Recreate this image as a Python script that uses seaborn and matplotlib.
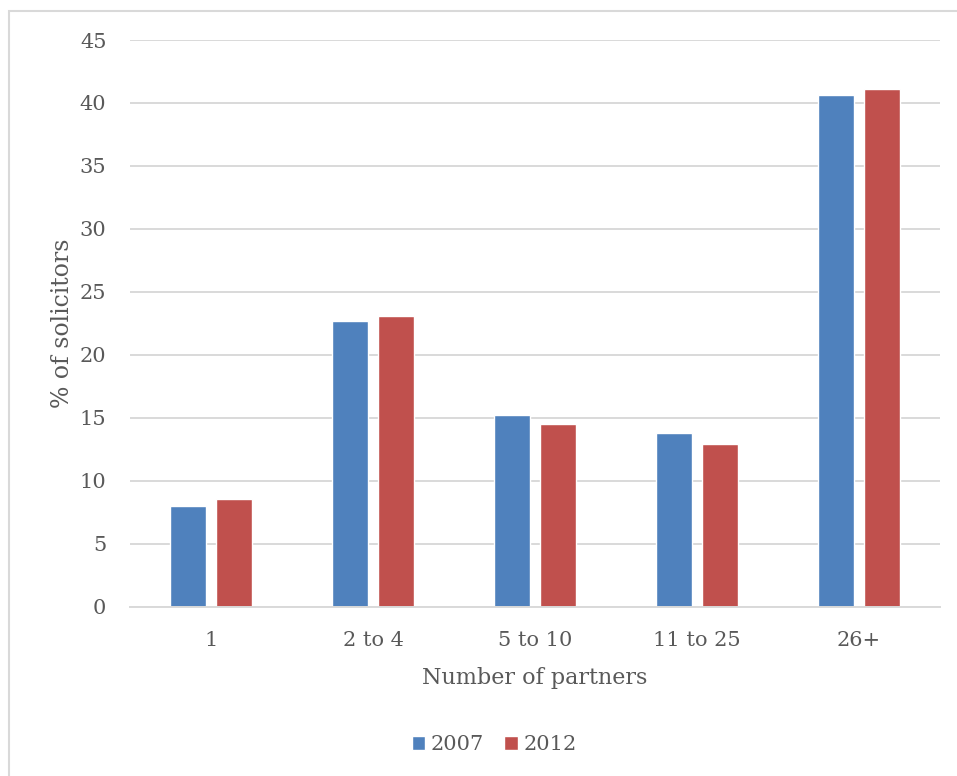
import matplotlib
matplotlib.use("Agg")
import matplotlib.pyplot as plt
import seaborn as sns
import pandas as pd
from matplotlib.patches import Rectangle

categories = ["1", "2 to 4", "5 to 10", "11 to 25", "26+"]
years = ["2007", "2012"]
values_2007 = [8.0, 22.7, 15.2, 13.8, 40.6]
values_2012 = [8.5, 23.1, 14.5, 12.9, 41.1]
y_ticks = [0, 5, 10, 15, 20, 25, 30, 35, 40, 45]

colors = {"2007": "#4F81BD", "2012": "#C0504D"}
text_color = "#595959"
grid_color = "#D9D9D9"

df = pd.DataFrame({
    "partners": categories * 2,
    "year": [years[0]] * len(categories) + [years[1]] * len(categories),
    "pct": values_2007 + values_2012,
})

sns.set_theme(style="white")
plt.rcParams["font.family"] = ["DejaVu Serif"]

fig = plt.figure(figsize=(9.57, 7.76), dpi=100)
ax = fig.add_axes([130 / 957, 1 - 606.5 / 776, 810 / 957, 566.5 / 776])

sns.barplot(data=df, x="partners", y="pct", hue="year", order=categories,
            hue_order=years, palette=colors, width=0.57, gap=0.21,
            saturation=1, ax=ax, legend=True)

ax.set_ylim(0, 45)
ax.set_xlim(-0.5, len(categories) - 0.5)
ax.set_yticks(y_ticks)
ax.set_yticklabels([str(t) for t in y_ticks])
ax.yaxis.grid(True, color=grid_color, linewidth=1.4)
ax.set_axisbelow(True)
for s in ["top", "right", "left"]:
    ax.spines[s].set_visible(False)
ax.spines["bottom"].set_color(grid_color)
ax.spines["bottom"].set_linewidth(1.4)
ax.tick_params(axis="both", length=0, labelsize=15, colors=text_color)
ax.tick_params(axis="y", pad=17)
ax.tick_params(axis="x", pad=18)

ax.set_xlabel("Number of partners", fontsize=16, color=text_color, labelpad=12)
ax.set_ylabel("% of solicitors", fontsize=17, color=text_color)
ax.yaxis.set_label_coords(-56 / 810, 0.5)

handles, labels = ax.get_legend_handles_labels()
ax.get_legend().remove()
fig.legend(handles, labels, loc="center", bbox_to_anchor=(494 / 957, 1 - 745 / 776),
           ncol=2, frameon=False, fontsize=15, handlelength=0.65, handleheight=0.65,
           handletextpad=0.25, columnspacing=1.0, labelcolor=text_color)

# chart-area border
fig.patches.append(Rectangle((9 / 957, -0.1), 1.2, 1.1 - 11 / 776,
                             transform=fig.transFigure, fill=False,
                             edgecolor=grid_color, linewidth=1.5))

fig.savefig("out.png", dpi=100, facecolor="white")
